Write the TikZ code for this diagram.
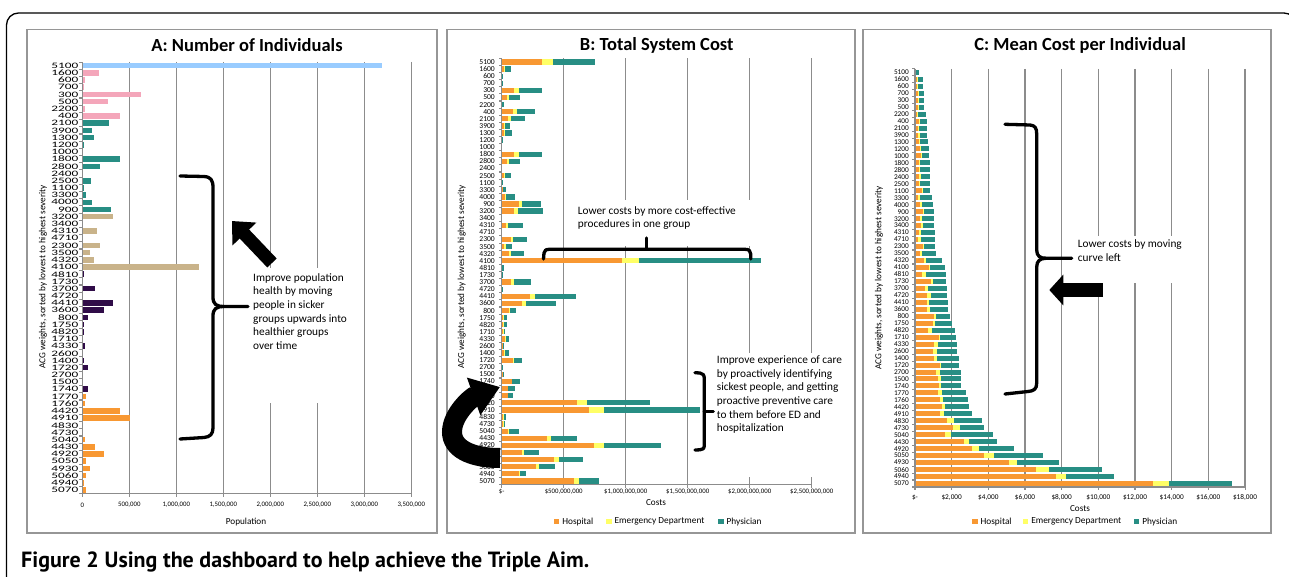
\documentclass[tikz,border=0pt]{standalone}
\usepackage{fontspec}
\setmainfont{Carlito}
\newfontfamily\capfont{PT Sans}
\newfontfamily\widefont[FakeStretch=1.6]{Carlito}
\usetikzlibrary{arrows.meta, calc, positioning}

\definecolor{hospcol}{RGB}{248,152,50}
\definecolor{edcol}{RGB}{255,255,102}
\definecolor{physcol}{RGB}{40,142,132}
\definecolor{acgblue}{RGB}{153,204,255}
\definecolor{acgpink}{RGB}{244,166,186}
\definecolor{acgtan}{RGB}{201,179,138}
\definecolor{acgplum}{RGB}{48,12,72}
\definecolor{gridcol}{RGB}{140,140,140}
\definecolor{framecol}{RGB}{150,150,150}

\newcommand{\pxfont}[2]{\fontsize{#1}{#2}\selectfont}

\begin{document}
\begin{tikzpicture}[
  x=1pt, y=-1pt,
  panel/.style={draw=framecol, line width=1.6pt},
  gridln/.style={draw=gridcol, line width=1.2pt},
  axisln/.style={draw=gridcol, line width=1.1pt},
  ttl/.style={inner sep=0pt, font=\bfseries\pxfont{18.5}{20}},
  rowlab/.style={anchor=east, inner sep=0pt, font=\pxfont{#1}{#1}},
  ticklab/.style={inner sep=0pt, font=\pxfont{6.8}{7}},
  axttl/.style={inner sep=0pt, font=\pxfont{9.2}{10}},
  ytitle/.style={rotate=90, inner sep=0pt, font=\pxfont{9.2}{10}},
  note/.style={anchor=north west, align=left, inner sep=0pt, font=\pxfont{11.3}{13.7}},
  brace/.style={draw=black, line width=3.3pt, line cap=round, line join=round},
  legsq/.style={fill=#1, minimum size=5.5pt, inner sep=0pt},
  legtxt/.style={right=2.5pt of #1, inner sep=0pt, font=\pxfont{9.3}{10}}
]
\useasboundingbox (0,0) rectangle (1289,577);

% Outer frame and panels
\draw[line width=1.3pt, rounded corners=12pt] (6.5,600) -- (6.5,13) -- (1296,13) -- (1296,600);
\draw[panel] (27,29.5) rectangle (437,533);
\draw[panel] (447,29.5) rectangle (855,533);
\draw[panel] (863,29.5) rectangle (1271,533);

% Gridlines
\foreach \k in {1,...,7} \draw[gridln] ({82.3+47*\k},62) -- ({82.3+47*\k},493.5);
\foreach \k in {1,...,5} \draw[gridln] ({501.7+62*\k},58.5) -- ({501.7+62*\k},484.5);
\foreach \k in {1,...,9} \draw[gridln] ({915+36.67*\k},68.8) -- ({915+36.67*\k},487);
\fill[white] (250,268) rectangle (352,403);
\fill[white] (572,200) rectangle (755,246);
\fill[white] (714,353) rectangle (840,477);
\fill[white] (1074,236) rectangle (1190,283);

% Titles
\node[ttl] (titleA) at (247,45) {A: Number of Individuals};
\node[ttl] (titleB) at (656.7,45) {B: Total System Cost};
\node[ttl] (titleC) at (1080,45) {C: Mean Cost per Individual};

% Panel A bars (thousands)
\foreach \lab/\v/\c [count=\i, evaluate=\i as \y using 65.7+(\i-1)*7.19] in {
  5100/3188/acgblue, 1600/177/acgpink, 600/25/acgpink, 700/14/acgpink, 300/624/acgpink,
  500/273/acgpink, 2200/25/acgpink, 400/400/acgpink,
  2100/284/physcol, 3900/103/physcol, 1300/124/physcol, 1200/14/physcol, 1000/3/physcol,
  1800/400/physcol, 2800/188/physcol, 2400/0/physcol, 2500/92/physcol, 1100/14/physcol,
  3300/39/physcol, 4000/103/physcol, 900/305/physcol,
  3200/326/acgtan, 3400/0/acgtan, 4310/156/acgtan, 4710/0/acgtan, 2300/188/acgtan,
  3500/82/acgtan, 4320/124/acgtan, 4100/1241/acgtan,
  4810/14/acgplum, 1730/3/acgplum, 3700/135/acgplum, 4720/0/acgplum, 4410/326/acgplum,
  3600/230/acgplum, 800/60/acgplum, 1750/14/acgplum, 4820/14/acgplum, 1710/0/acgplum,
  4330/25/acgplum, 2600/0/acgplum, 1400/14/acgplum, 1720/60/acgplum, 2700/0/acgplum,
  1500/0/acgplum, 1740/60/acgplum,
  1770/39/hospcol, 1760/28/hospcol, 4420/400/hospcol, 4910/507/hospcol, 4830/0/hospcol,
  4730/0/hospcol, 5040/25/hospcol, 4430/135/hospcol, 4920/230/hospcol, 5050/39/hospcol,
  4930/82/hospcol, 5060/39/hospcol, 4940/14/hospcol, 5070/39/hospcol} {
  \node[anchor=east, inner sep=0pt, font=\widefont\pxfont{8.3}{8.3}] (la\i) at (78.5,\y) {\lab};
  \fill[\c] (82.3,\y-2.8) rectangle ({82.3+0.094*\v},\y+2.8);
}

% Panel B bars (millions)
\foreach \lab/\h/\e/\p [count=\i, evaluate=\i as \y using 62+(\i-1)*7.1] in {
  5100/328/417/754, 1600/19/24/78, 600/0/0/8, 700/0/0/5, 300/97/140/323,
  500/43/57/145, 2200/0/0/16, 400/92/121/267, 2100/51/73/188, 3900/19/27/70,
  1300/19/30/86, 1200/0/0/8, 1000/0/0/0, 1800/100/137/323, 2800/43/57/151,
  2400/0/0/0, 2500/19/24/73, 1100/0/0/8, 3300/8/11/35, 4000/27/38/105,
  900/140/164/318, 3200/100/132/337, 3400/0/0/0, 4310/35/54/170, 4710/0/0/0,
  2300/78/94/207, 3500/19/35/86, 4320/59/75/178, 4100/967/1104/2092, 4810/0/0/22,
  1730/0/0/8, 3700/75/97/240, 4720/0/0/13, 4410/232/269/598, 3600/162/197/434,
  800/59/67/116, 1750/13/19/40, 4820/13/19/43, 1710/13/19/30, 4330/24/32/62,
  2600/8/11/19, 1400/22/27/57, 1720/89/97/162, 2700/0/0/11, 1500/8/11/22,
  1740/81/86/151, 1770/48/54/105, 1760/48/54/94, 4420/611/687/1193, 4910/708/821/1602,
  4830/13/19/32, 4730/13/19/30, 5040/54/62/137, 4430/363/398/611, 4920/743/827/1284,
  5050/162/183/299, 4930/425/463/652, 5060/280/304/431, 4940/137/148/197, 5070/584/625/781} {
  \node[rowlab=7.6] (lb\i) at (495,\y) {\lab};
  \fill[hospcol] (501.7,\y-2.65) rectangle ({501.7+0.124*\h},\y+2.65);
  \fill[edcol] ({501.7+0.124*\h},\y-2.65) rectangle ({501.7+0.124*\e},\y+2.65);
  \fill[physcol] ({501.7+0.124*\e},\y-2.65) rectangle ({501.7+0.124*\p},\y+2.65);
}

% Panel C bars (hundreds of dollars)
\foreach \lab/\h/\e/\p [count=\i, evaluate=\i as \y using 72.3+(\i-1)*6.97] in {
  5100/0.5/0.7/2.0, 1600/1.1/1.6/4.4, 600/0.9/1.5/4.6, 700/1.6/2.2/4.9, 300/1.5/2.0/4.9,
  500/1.5/2.0/4.9, 2200/1.1/1.5/6.0, 400/2.2/2.7/6.4, 2100/1.6/2.4/6.6, 3900/1.6/2.6/6.7,
  1300/2.0/2.6/7.1, 1200/2.9/3.3/7.5, 1000/3.3/3.6/7.6, 1800/2.2/2.9/8.0, 2800/2.2/2.9/8.0,
  2400/2.2/3.1/8.2, 2500/2.2/2.7/8.2, 1100/4.0/4.6/8.2, 3300/1.8/2.6/9.1, 4000/2.7/3.6/9.6,
  900/4.6/5.1/10.2, 3200/2.9/3.8/10.2, 3400/3.5/4.4/10.4, 4310/2.4/3.3/10.7, 4710/1.8/3.3/10.9,
  2300/4.4/4.9/10.9, 3500/2.9/3.8/11.3, 4320/4.9/5.8/14.6, 4100/7.5/8.4/16.6, 4810/3.8/6.2/16.9,
  1730/8.9/9.6/16.9, 3700/5.5/7.1/17.5, 4720/6.4/8.9/17.6, 4410/6.7/7.8/17.8, 3600/6.6/8.0/18.2,
  800/10.2/11.3/19.3, 1750/9.6/10.9/20.2, 4820/6.9/9.5/21.8, 1710/13.1/13.8/22.6, 4330/10.4/12.6/22.7,
  2600/10.0/11.8/22.9, 1400/10.4/11.8/23.8, 1720/13.6/14.2/24.0, 2700/11.5/13.6/24.9, 1500/12.4/14.2/24.9,
  1740/13.3/14.2/25.3, 1770/12.6/14.9/27.8, 1760/13.8/15.3/28.9, 4420/14.7/16.6/29.3, 4910/13.8/15.8/31.3,
  4830/17.6/21.5/36.4, 4730/20.6/24.6/37.5, 5040/16.4/19.8/42.4, 4430/26.9/29.5/44.7, 4920/31.3/34.7/53.8,
  5050/37.8/43.3/69.5, 4930/51.3/55.8/78.4, 5060/66.0/72.9/102.0, 4940/77.1/82.4/108.2, 5070/129.6/138.6/172.7} {
  \node[rowlab=7.3] (lc\i) at (909,\y) {\lab};
  \fill[hospcol] (915,\y-2.5) rectangle ({915+1.835*\h},\y+2.5);
  \fill[edcol] ({915+1.835*\h},\y-2.5) rectangle ({915+1.835*\e},\y+2.5);
  \fill[physcol] ({915+1.835*\e},\y-2.5) rectangle ({915+1.835*\p},\y+2.5);
}

% Axes
\draw[axisln] (82.3,62.1) -- (82.3,493.5) -- (411.3,493.5);
\foreach \i in {0,...,60} \draw[axisln] (82.3,{62.1+7.19*\i}) -- ++(-3,0);
\foreach \k in {0,...,7} \draw[axisln] ({82.3+47*\k},493.5) -- ++(0,3);
\draw[axisln] (501.7,58.5) -- (501.7,484.5) -- (811.7,484.5);
\foreach \i in {0,...,60} \draw[axisln] (501.7,{58.45+7.1*\i}) -- ++(-3,0);
\foreach \k in {0,...,5} \draw[axisln] ({501.7+62*\k},484.5) -- ++(0,3);
\draw[axisln] (915,68.8) -- (915,487) -- (1245,487);
\foreach \i in {0,...,60} \draw[axisln] (915,{68.8+6.97*\i}) -- ++(-3,0);
\foreach \k in {0,...,9} \draw[axisln] ({915+36.67*\k},487) -- ++(0,3);

% Tick labels
\foreach \k/\t in {0/0, 1/{500,000}, 2/{1,000,000}, 3/{1,500,000}, 4/{2,000,000},
  5/{2,500,000}, 6/{3,000,000}, 7/{3,500,000}}
  \node[ticklab] (ta\k) at ({82.3+47*\k},505) {\t};
\foreach \k/\t in {0/{\$-}, 1/{\$500,000,000}, 2/{\$1,000,000,000}, 3/{\$1,500,000,000},
  4/{\$2,000,000,000}, 5/{\$2,500,000,000}}
  \node[ticklab] (tb\k) at ({501.7+62*\k},491.7) {\t};
\foreach \k/\t in {0/{\$-}, 1/{\$2,000}, 2/{\$4,000}, 3/{\$6,000}, 4/{\$8,000},
  5/{\$10,000}, 6/{\$12,000}, 7/{\$14,000}, 8/{\$16,000}, 9/{\$18,000}}
  \node[ticklab, font=\pxfont{7.3}{8}] (tc\k) at ({915+36.67*\k},497.7) {\t};

% Axis titles
\node[axttl] (popA) at (246,521.7) {Population};
\node[axttl] (costB) at (656,503) {Costs};
\node[axttl] (costC) at (1080,508.7) {Costs};
\node[ytitle] (yA) at (43,277) {ACG weights, sorted by lowest to highest severity};
\node[ytitle] (yB) at (461.7,277) {ACG weights, sorted by lowest to highest severity};
\node[ytitle] (yC) at (879,278) {ACG weights, sorted by lowest to highest severity};

% Legends
\node[legsq=hospcol] (lgBh) at (556.7,521.7) {};
\node[legtxt=lgBh] (lgBht) {Hospital};
\node[legsq=edcol] (lgBe) at (609,521.7) {};
\node[legtxt=lgBe] (lgBet) {Emergency Department};
\node[legsq=physcol] (lgBp) at (721,521.7) {};
\node[legtxt=lgBp] (lgBpt) {Physician};
\node[legsq=hospcol] (lgCh) at (975,521.7) {};
\node[legtxt=lgCh] (lgCht) {Hospital};
\node[legsq=edcol] (lgCe) at (1025.7,521.7) {};
\node[legtxt=lgCe] (lgCet) {Emergency Department};
\node[legsq=physcol] (lgCp) at (1136.7,521.7) {};
\node[legtxt=lgCp] (lgCpt) {Physician};

% Notes
\node[note] (noteA) at (253,273) {Improve population\\health by moving\\people in sicker\\groups upwards into\\healthier groups\\over time};
\node[note] (noteB1) at (577.7,206) {Lower costs by more cost-effective\\procedures in one group};
\node[note] (noteB2) at (716.7,355.5) {Improve experience of care\\by proactively identifying\\sickest people, and getting\\proactive preventive care\\to them before ED and\\hospitalization};
\node[note] (noteC) at (1077.7,239.5) {Lower costs by moving\\curve left};

% Braces
\draw[brace] (180,176) -- (204,176.5) .. controls (211,177) and (213,180) .. (213,188) -- (213,297)
  .. controls (213,304) and (216,306.5) .. (224,306.5) -- (248,306.5);
\draw[brace] (224,306.5) .. controls (216,306.5) and (213,309) .. (213,316) -- (213,428)
  .. controls (213,434) and (210,437) .. (204,437.5) -- (180,439);
\draw[brace] (543.5,259) -- (544,253) .. controls (544.5,250) and (546,249.3) .. (550,249.3) -- (745,249.3)
  .. controls (749,249.3) and (750.7,251) .. (750.7,254) -- (750.7,259);
\draw[brace] (646.7,249.3) -- (646.7,238);
\draw[brace] (695,372.7) -- (700,373) .. controls (703,373.3) and (704.3,375) .. (704.3,379) -- (704.3,445)
  .. controls (704.3,448.5) and (703,449.7) .. (700,449.8) -- (695,450);
\draw[brace] (704.3,411.7) -- (713.3,411.7);
\draw[brace] (1005,124.3) -- (1030,125) .. controls (1035,125.5) and (1036.7,128) .. (1036.7,134) -- (1036.7,250)
  .. controls (1036.7,256) and (1040,258.3) .. (1046,258.3) -- (1071.7,258.3);
\draw[brace] (1046,258.3) .. controls (1040,258.3) and (1036.7,261) .. (1036.7,267) -- (1036.7,383)
  .. controls (1036.7,389) and (1034,391) .. (1028,391.5) -- (1005,394);

% Arrows
\coordinate (arrAtail) at (272,263);
\coordinate (arrAtip) at (232,221);
\draw[line width=13pt, -{Triangle[length=18pt,width=32pt]}] (arrAtail) -- (arrAtip);
\coordinate (arrBtail) at (500,458);
\coordinate (arrBtip) at (500,387);
\draw[line width=20pt, -{Triangle[length=28pt,width=38pt]}] (arrBtail) .. controls (470,458) and (452,448) .. (452,432)
  .. controls (452,414) and (472,397) .. (arrBtip);
\coordinate (arrCtail) at (1103,290);
\coordinate (arrCtip) at (1049.3,290);
\draw[line width=14.7pt, -{Triangle[length=14pt,width=30pt]}] (arrCtail) -- (arrCtip);

% Caption
\node[anchor=base west, inner sep=0pt, font=\capfont\pxfont{22}{24}] (caption) at (21,567)
  {\textbf{Figure 2} \textbf{Using the dashboard to help achieve the Triple Aim.}};
\end{tikzpicture}
\end{document}
